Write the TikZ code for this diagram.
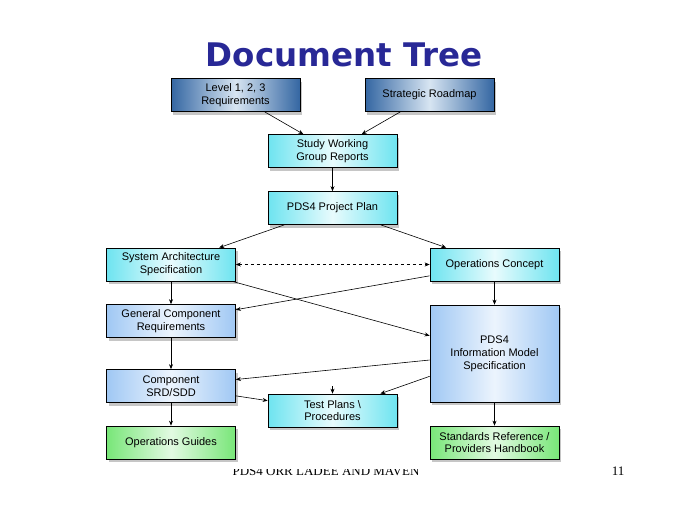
\documentclass[tikz,border=0pt]{standalone}
\usepackage{fontspec}
\setmainfont{Liberation Serif}
\setsansfont{Liberation Sans}
\newfontfamily\titlefont{DejaVu Sans}
\usetikzlibrary{arrows.meta,shadows}
\definecolor{titleblue}{RGB}{40,40,150}
\definecolor{steelblue}{RGB}{52,102,162}
\definecolor{steelpale}{RGB}{215,229,242}
\definecolor{cyanedge}{RGB}{110,228,240}
\definecolor{cyanpale}{RGB}{232,251,253}
\definecolor{skyedge}{RGB}{160,200,244}
\definecolor{skypale}{RGB}{236,244,253}
\definecolor{greenedge}{RGB}{120,230,120}
\definecolor{greenpale}{RGB}{226,250,226}

\begin{document}
\begin{tikzpicture}[
    x=1pt, y=-1pt,
    box/.style={draw=black, line width=0.7pt, minimum width=129pt, minimum height=33pt,
        align=center, inner sep=2pt, font=\sffamily\fontsize{11}{12.8}\selectfont,
        drop shadow={shadow xshift=2pt, shadow yshift=-3pt, opacity=0.45}},
    req/.style={box, left color=steelblue, right color=steelblue, middle color=steelpale},
    rep/.style={box, left color=cyanedge, right color=cyanedge, middle color=cyanpale},
    spec/.style={box, left color=skyedge, right color=skyedge, middle color=skypale},
    guide/.style={box, left color=greenedge, right color=greenedge, middle color=greenpale},
    arr/.style={-{Stealth[length=5pt, width=4pt]}, line width=0.6pt, black},
    darr/.style={{Stealth[length=5pt, width=4pt]}-{Stealth[length=5pt, width=4pt]}, line width=0.6pt, dashed, black}
]
    \useasboundingbox (0,0) rectangle (684,504);

    % Title
    \node[font=\titlefont\bfseries\fontsize{32.5}{38}\selectfont, text=titleblue] (title) at (344,55) {Document Tree};

    % Top level inputs
    \node[req] (L123) at (235.5,95) {Level 1, 2, 3\\Requirements};
    \node[req] (SR) at (429.5,95) {Strategic Roadmap};

    % Reports and plan
    \node[rep] (SWG) at (332.5,151) {Study Working\\Group Reports};
    \node[rep] (PP) at (332.5,208) {PDS4 Project Plan};

    % Specifications
    \node[rep] (SAS) at (171,264.5) {System Architecture\\Specification};
    \node[rep] (OC) at (494.5,264.5) {Operations Concept};
    \node[spec] (GCR) at (171,321) {General Component\\Requirements};
    \node[spec, minimum height=97pt] (IM) at (494.5,353.5) {PDS4\\Information Model\\Specification};
    \node[spec] (SRD) at (171,386) {Component\\SRD/SDD};
    \node[rep] (TP) at (332.5,410.5) {Test Plans \textbackslash\\Procedures};

    % Guides
    \node[guide] (OG) at (171,442.5) {Operations Guides};
    \node[guide] (SRH) at (494.5,442.5) {Standards Reference /\\Providers Handbook};

    % Footer
    \begin{scope}
        \clip (200,469) rectangle (450,485);
        \node[font=\rmfamily\fontsize{13}{15}\selectfont, anchor=base] (foot) at (326,475.5) {PDS4 ORR LADEE AND MAVEN};
    \end{scope}
    \node[font=\rmfamily\fontsize{13}{15}\selectfont, anchor=base] (page) at (618,475) {11};

    % Arrows
    \draw[arr] (L123) -- (SWG);
    \draw[arr] (SR) -- (SWG);
    \draw[arr] (SWG) -- (PP);
    \draw[arr] (PP) -- (SAS);
    \draw[arr] (PP) -- (OC);
    \draw[darr] (SAS) -- (OC);
    \draw[arr] (SAS) -- (GCR);
    \draw[arr] (OC) -- (IM);
    \draw[arr] (SAS) -- (IM);
    \draw[arr] (OC) -- (GCR);
    \draw[arr] (GCR) -- (SRD);
    \draw[arr] (IM) -- (SRD);
    \draw[arr] (IM) -- (TP);
    \draw[arr] (SRD) -- (TP);
    \draw[arr] (SRD) -- (OG);
    \draw[arr] (IM) -- (SRH);
    \coordinate (tpin) at (332.5,386);
    \draw[arr] (tpin) -- (TP);
\end{tikzpicture}
\end{document}
